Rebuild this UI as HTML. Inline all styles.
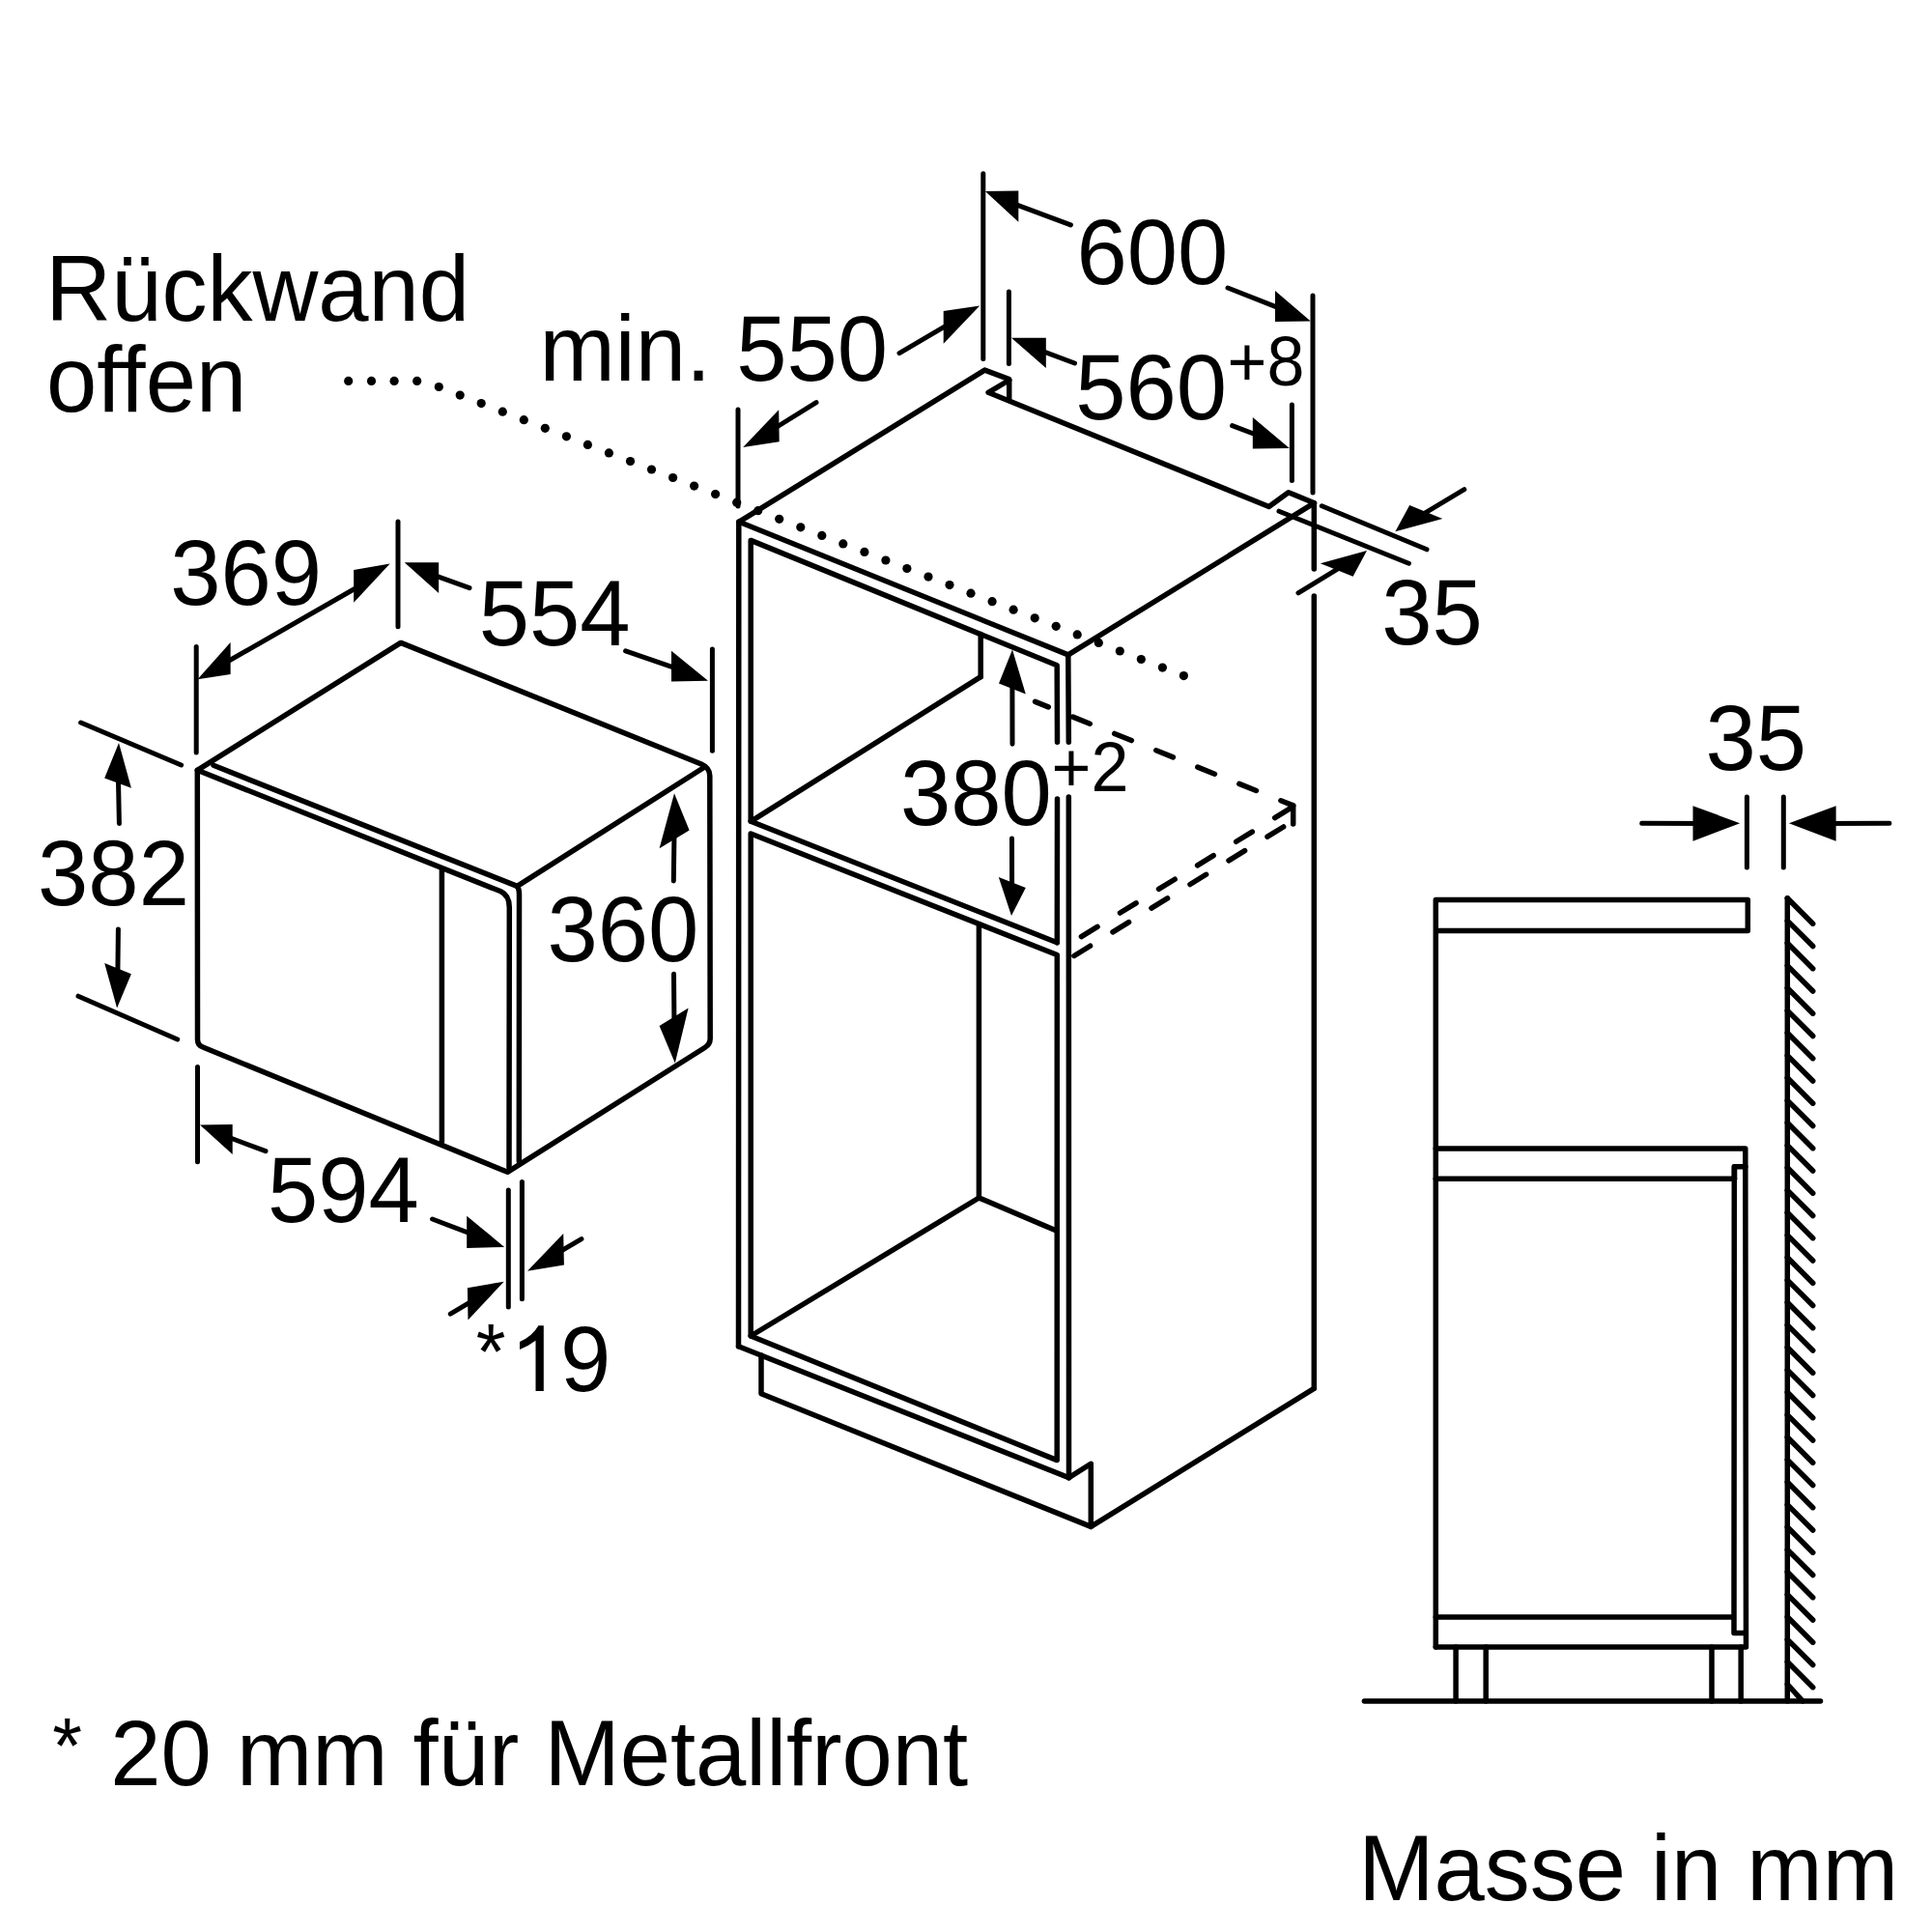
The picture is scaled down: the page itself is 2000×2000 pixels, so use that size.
<!DOCTYPE html>
<html><head><meta charset="utf-8"><style>
html,body{margin:0;padding:0;background:#fff;width:2000px;height:2000px;overflow:hidden}
svg{display:block}
text{font-family:"Liberation Sans",sans-serif;fill:#000}
.obj line,.obj path{stroke:#000;stroke-width:5.5;fill:none;stroke-linecap:round;stroke-linejoin:round}
.dim line{stroke:#000;stroke-width:5;stroke-linecap:round}
.dim polygon{fill:#000}
.dots circle{fill:#000}
.dash path{stroke:#000;stroke-width:5.5;fill:none;stroke-linecap:round}
</style></head><body>
<svg width="2000" height="2000" viewBox="0 0 2000 2000">
<rect width="2000" height="2000" fill="#fff"/>
<g class="dim">
<polygon points="403.7,583.6 366.2,590 366.2,623.7"/>
<polygon points="204.5,703.2 238.6,665 238.6,698"/>
<line x1="230" y1="688" x2="375" y2="605"/>
<line x1="203.2" y1="669.5" x2="203.2" y2="779"/>
<line x1="412" y1="540" x2="412" y2="648.8"/>
<polygon points="418.7,582.3 454.2,582.3 454.2,613.9"/>
<line x1="443.6" y1="593.4" x2="486" y2="608.7"/>
<polygon points="733,704.8 695,673.8 695,705.6"/>
<line x1="706.4" y1="694.2" x2="647.6" y2="673.8"/>
<line x1="737.4" y1="672" x2="737.4" y2="777.3"/>
<line x1="83.6" y1="748" x2="187.6" y2="792"/>
<polygon points="123,769 108.2,805.4 135.9,815.7"/>
<line x1="122.3" y1="798.1" x2="123.4" y2="852.5"/>
<polygon points="121.1,1043.6 108.2,997 135.9,1008.2"/>
<line x1="121.8" y1="1014.9" x2="122.4" y2="962"/>
<line x1="81" y1="1031.2" x2="183.7" y2="1076"/>
<polygon points="698,821.3 682.6,878.2 713.6,859.6"/>
<line x1="698.1" y1="854.6" x2="697.3" y2="911.9"/>
<polygon points="698.8,1100.4 682.6,1062.1 712.6,1043.5"/>
<line x1="698.0" y1="1067.1" x2="697.5" y2="1008.3"/>
<line x1="204.5" y1="1104.5" x2="204.5" y2="1202.8"/>
<polygon points="207,1164.5 240.7,1164 240.7,1195"/>
<line x1="230.6" y1="1175.0" x2="275" y2="1191.7"/>
<polygon points="522.2,1290.9 483.2,1258.8 483.2,1291.9"/>
<line x1="494.9" y1="1280.0" x2="447.6" y2="1262"/>
<line x1="526.3" y1="1231.9" x2="526.3" y2="1353"/>
<line x1="540.4" y1="1223.6" x2="540.4" y2="1344.7"/>
<polygon points="546,1315.7 583.2,1277 583.9,1309.5"/>
<line x1="572.3" y1="1300.0" x2="601.9" y2="1282.6"/>
<polygon points="521.7,1326.7 483.9,1333.3 484.5,1366.5"/>
<line x1="495.4" y1="1342.9" x2="466.3" y2="1360.2"/>
<line x1="764" y1="424" x2="764" y2="524"/>
<polygon points="769.2,463.1 806.2,424.3 806.7,457.2"/>
<line x1="795.3" y1="447.5" x2="845" y2="416.6"/>
<polygon points="1014.2,316.4 976.7,322.1 976.7,355.7"/>
<line x1="988.0" y1="332.1" x2="931" y2="365.6"/>
<line x1="1017.8" y1="179.8" x2="1017.8" y2="371.5"/>
<polygon points="1019.9,197.9 1054.3,197.4 1054.3,229.7"/>
<line x1="1044.0" y1="208.9" x2="1108.4" y2="232.8"/>
<polygon points="1356.8,332.5 1320,300.9 1320,333"/>
<line x1="1331.0" y1="321.6" x2="1271" y2="298"/>
<line x1="1359" y1="306" x2="1359" y2="510"/>
<line x1="1044.4" y1="302" x2="1044.4" y2="376.5"/>
<polygon points="1047,349.8 1082.8,349.8 1082.8,381.1"/>
<line x1="1072.1" y1="360.8" x2="1112.5" y2="376"/>
<polygon points="1334.8,464 1296.8,432.1 1296.8,464.4"/>
<line x1="1308.2" y1="453.0" x2="1275.6" y2="440.6"/>
<line x1="1337.4" y1="419" x2="1337.4" y2="497.5"/>
<line x1="1368.3" y1="523.8" x2="1477" y2="568.8"/>
<line x1="1324" y1="529.2" x2="1458.4" y2="583.2"/>
<polygon points="1444.4,550.2 1459.2,523 1493.3,537"/>
<line x1="1466.7" y1="536.1" x2="1515.8" y2="506.7"/>
<polygon points="1415,569.9 1366.8,583.2 1400.6,596.7"/>
<line x1="1393.1" y1="583.9" x2="1344" y2="613.8"/>
<polygon points="1048,672.5 1034,707.5 1061.8,718.5"/>
<line x1="1047.9" y1="700.9" x2="1048" y2="770.3"/>
<polygon points="1047,948 1033.8,907.9 1061.8,919"/>
<line x1="1047.6" y1="923.8" x2="1047.5" y2="868"/>
<line x1="1808.4" y1="825" x2="1808.4" y2="898"/>
<line x1="1846.3" y1="825" x2="1846.3" y2="898"/>
<polygon points="1801.2,852.2 1752.5,834.2 1752.5,870.8"/>
<line x1="1767.1" y1="852.4" x2="1699.7" y2="852.2"/>
<polygon points="1851.9,852.2 1900.6,834.2 1900.6,870.8"/>
<line x1="1886.0" y1="852.4" x2="1955.9" y2="852.2"/>
</g>
<g class="dots">
<circle cx="360.7" cy="394.4" r="4.6"/>
<circle cx="384.5" cy="394.4" r="4.6"/>
<circle cx="408.1" cy="394.4" r="4.6"/>
<circle cx="431.7" cy="394.4" r="4.6"/>
<circle cx="454.3" cy="400.5" r="4.6"/>
<circle cx="476.2" cy="409.1" r="4.6"/>
<circle cx="498.2" cy="417.6" r="4.6"/>
<circle cx="520.3" cy="426.2" r="4.6"/>
<circle cx="542.3" cy="434.7" r="4.6"/>
<circle cx="564.3" cy="443.3" r="4.6"/>
<circle cx="586.4" cy="451.8" r="4.6"/>
<circle cx="608.4" cy="460.4" r="4.6"/>
<circle cx="630.4" cy="468.9" r="4.6"/>
<circle cx="652.5" cy="477.5" r="4.6"/>
<circle cx="674.5" cy="486.0" r="4.6"/>
<circle cx="696.6" cy="494.5" r="4.6"/>
<circle cx="718.6" cy="503.1" r="4.6"/>
<circle cx="740.6" cy="511.6" r="4.6"/>
<circle cx="762.7" cy="520.2" r="4.6"/>
<circle cx="784.7" cy="528.7" r="4.6"/>
<circle cx="806.7" cy="537.3" r="4.6"/>
<circle cx="828.8" cy="545.8" r="4.6"/>
<circle cx="850.8" cy="554.4" r="4.6"/>
<circle cx="872.8" cy="562.9" r="4.6"/>
<circle cx="894.9" cy="571.4" r="4.6"/>
<circle cx="916.9" cy="580.0" r="4.6"/>
<circle cx="938.9" cy="588.5" r="4.6"/>
<circle cx="961.0" cy="597.1" r="4.6"/>
<circle cx="983.0" cy="605.6" r="4.6"/>
<circle cx="1005.0" cy="614.2" r="4.6"/>
<circle cx="1027.1" cy="622.7" r="4.6"/>
<circle cx="1049.1" cy="631.2" r="4.6"/>
<circle cx="1071.2" cy="639.8" r="4.6"/>
<circle cx="1093.2" cy="648.3" r="4.6"/>
<circle cx="1115.2" cy="656.9" r="4.6"/>
<circle cx="1137.3" cy="665.4" r="4.6"/>
<circle cx="1159.3" cy="674.0" r="4.6"/>
<circle cx="1181.3" cy="682.5" r="4.6"/>
<circle cx="1203.4" cy="691.1" r="4.6"/>
<circle cx="1225.4" cy="699.6" r="4.6"/>
</g>
<g class="obj">
<path d="M204.5,1076 L204.3,797.3 L414.9,665.4 L726,791 Q734.8,795 734.8,803 L735.2,1075 Q735.2,1081 729.6,1084.5 L525.3,1213.3 L210,1084 Q204.5,1082 204.5,1076 Z"/>
<line x1="728.3" y1="794.7" x2="535.4" y2="917.4"/>
<line x1="221" y1="792.3" x2="535.4" y2="917.4"/>
<path d="M204.3,797.3 L518.4,922.8 Q527.3,927 527.3,939.4 L527,1209"/>
<path d="M535.4,917.4 Q537.5,920 537.5,926 L537.3,1202"/>
<line x1="457.4" y1="901" x2="457.4" y2="1182"/>
</g>
<g class="obj">
<path d="M765.2,540.2 L1019.4,383.1 L1044.7,392.6 L1044.7,412.5"/>
<path d="M1044.7,393.5 L1023.1,406.3 L1313.6,524.5 L1333.8,509.7 L1360.6,520.7 L1105.8,677.9"/>
<line x1="765.2" y1="540.2" x2="1105.8" y2="677.9"/>
<line x1="764.8" y1="540.2" x2="764.5" y2="1393.8"/>
<line x1="1360.3" y1="520.7" x2="1360.3" y2="589"/>
<line x1="1360.3" y1="617" x2="1360.3" y2="1437.3"/>
<path d="M1360.3,1437.3 L1129.3,1580.4 L1129.3,1515.2 L1106.5,1529.7"/>
<line x1="1105.8" y1="677.9" x2="1106.3" y2="768.3"/>
<line x1="1106.3" y1="825" x2="1106.5" y2="1529.7"/>
<line x1="764.5" y1="1393.8" x2="1106.5" y2="1529.7"/>
<path d="M788,1402.9 L788,1442.8 L1129.3,1580.4"/>
<path d="M777.2,850 L777.2,559.4 L1094.2,688.8 L1094.5,768.3"/>
<line x1="1094.5" y1="827" x2="1094.3" y2="975.8"/>
<line x1="1015.2" y1="656.5" x2="1015.2" y2="700.7"/>
<path d="M1015.2,700.7 L777.2,850.3 L1094.3,975.8"/>
<path d="M777.2,863 L1094.3,988.5 L1094.2,1511.6 L777.2,1383 Z"/>
<line x1="1013.4" y1="957.7" x2="1013.4" y2="1240"/>
<path d="M777.2,1383 L1013.4,1240 L1094.2,1274.3"/>
</g>
<g class="dash">
<path d="M1071.6,726.4 L1338.7,833.9" stroke-dasharray="19 27.4" stroke-dashoffset="4.3"/>
<path d="M1338.7,833.9 L1338.7,853"/>
<path d="M1338.7,835 L1116,971.7" stroke-dasharray="19.5 27.5" stroke-dashoffset="-2.8"/>
<path d="M1331,854.5 L1108,991.9" stroke-dasharray="19.5 27.5" stroke-dashoffset="-2.8"/>
</g>
<g class="obj">
<path d="M1486.3,1705 L1486.3,931.4 L1809.3,931.4 L1809.3,963.4 L1486.3,963.4"/>
<path d="M1486.3,1189.1 L1806.8,1189.1 L1807.5,1705 L1486.3,1705"/>
<path d="M1486.3,1220.2 L1795.5,1220.2"/>
<path d="M1795.5,1220.2 L1795.5,1207.8 L1806.8,1207.8"/>
<path d="M1795.3,1207.8 L1795,1690.4 L1805.3,1690.4"/>
<line x1="1486.3" y1="1674" x2="1794.4" y2="1674"/>
<line x1="1507.1" y1="1705" x2="1507.1" y2="1760.9"/>
<line x1="1538.2" y1="1705" x2="1538.2" y2="1760.9"/>
<line x1="1772" y1="1705" x2="1772" y2="1760.9"/>
<line x1="1802.2" y1="1705" x2="1802.2" y2="1760.9"/>
<line x1="1412.4" y1="1760.9" x2="1884.5" y2="1760.9"/>
<line x1="1850.3" y1="929.8" x2="1850.3" y2="1760.9"/>
<line x1="1850.3" y1="929.8" x2="1876.7" y2="956.2"/>
<line x1="1850.3" y1="953.1" x2="1876.7" y2="979.5"/>
<line x1="1850.3" y1="976.3" x2="1876.7" y2="1002.7"/>
<line x1="1850.3" y1="999.6" x2="1876.7" y2="1026.0"/>
<line x1="1850.3" y1="1022.8" x2="1876.7" y2="1049.2"/>
<line x1="1850.3" y1="1046.1" x2="1876.7" y2="1072.5"/>
<line x1="1850.3" y1="1069.3" x2="1876.7" y2="1095.7"/>
<line x1="1850.3" y1="1092.6" x2="1876.7" y2="1119.0"/>
<line x1="1850.3" y1="1115.8" x2="1876.7" y2="1142.2"/>
<line x1="1850.3" y1="1139.1" x2="1876.7" y2="1165.5"/>
<line x1="1850.3" y1="1162.3" x2="1876.7" y2="1188.7"/>
<line x1="1850.3" y1="1185.6" x2="1876.7" y2="1212.0"/>
<line x1="1850.3" y1="1208.8" x2="1876.7" y2="1235.2"/>
<line x1="1850.3" y1="1232.1" x2="1876.7" y2="1258.5"/>
<line x1="1850.3" y1="1255.3" x2="1876.7" y2="1281.7"/>
<line x1="1850.3" y1="1278.6" x2="1876.7" y2="1305.0"/>
<line x1="1850.3" y1="1301.8" x2="1876.7" y2="1328.2"/>
<line x1="1850.3" y1="1325.1" x2="1876.7" y2="1351.5"/>
<line x1="1850.3" y1="1348.3" x2="1876.7" y2="1374.7"/>
<line x1="1850.3" y1="1371.6" x2="1876.7" y2="1398.0"/>
<line x1="1850.3" y1="1394.8" x2="1876.7" y2="1421.2"/>
<line x1="1850.3" y1="1418.1" x2="1876.7" y2="1444.5"/>
<line x1="1850.3" y1="1441.3" x2="1876.7" y2="1467.7"/>
<line x1="1850.3" y1="1464.6" x2="1876.7" y2="1491.0"/>
<line x1="1850.3" y1="1487.8" x2="1876.7" y2="1514.2"/>
<line x1="1850.3" y1="1511.1" x2="1876.7" y2="1537.5"/>
<line x1="1850.3" y1="1534.3" x2="1876.7" y2="1560.7"/>
<line x1="1850.3" y1="1557.6" x2="1876.7" y2="1584.0"/>
<line x1="1850.3" y1="1580.8" x2="1876.7" y2="1607.2"/>
<line x1="1850.3" y1="1604.1" x2="1876.7" y2="1630.5"/>
<line x1="1850.3" y1="1627.3" x2="1876.7" y2="1653.7"/>
<line x1="1850.3" y1="1650.6" x2="1876.7" y2="1677.0"/>
<line x1="1850.3" y1="1673.8" x2="1876.7" y2="1700.2"/>
<line x1="1850.3" y1="1697.1" x2="1876.7" y2="1723.5"/>
<line x1="1850.3" y1="1720.3" x2="1876.7" y2="1746.7"/>
<line x1="1850.3" y1="1743.5" x2="1866" y2="1760.9"/>
</g>
<text transform="translate(47.3,331.9) scale(1,1.022)" font-size="94.0">Rückwand</text>
<text transform="translate(47.9,426.2) scale(1,1.022)" font-size="94.0">offen</text>
<text transform="translate(558.5,394.0) scale(1,1.022)" font-size="94.0">min. 550</text>
<text transform="translate(1114.4,293.7) scale(1,1.022)" font-size="94.0">600</text>
<text transform="translate(1113.2,434.0) scale(1,1.022)" font-size="94.0">560</text>
<text transform="translate(1270.6,399.0) scale(1,1.022)" font-size="70">+8</text>
<text transform="translate(176.3,626.3) scale(1,1.022)" font-size="94.0">369</text>
<text transform="translate(495.8,667.8) scale(1,1.022)" font-size="94.0">554</text>
<text transform="translate(39.1,937.4) scale(1,1.022)" font-size="94.0">382</text>
<text transform="translate(566.4,994.7) scale(1,1.022)" font-size="94.0">360</text>
<text transform="translate(277.0,1265.4) scale(1,1.022)" font-size="94.0">594</text>
<text transform="translate(492.7,1427.1) scale(1,1.022)" font-size="79">*</text>
<text transform="translate(579.9,1439.8) scale(1,1.022)" font-size="94.0">9</text>
<path d="M562.8,1372.3 L562.8,1439.9 L554.5,1439.9 L554.5,1387.7 Q547,1393.5 538,1396.9 L538,1389 Q551,1383.5 557.4,1372.3 Z" fill="#000"/>
<text transform="translate(1430.3,667.4) scale(1,1.022)" font-size="94.0">35</text>
<text transform="translate(931.9,854.3) scale(1,1.022)" font-size="94.0">380</text>
<text transform="translate(1088.6,819.2) scale(1,1.022)" font-size="70">+2</text>
<text transform="translate(1765.4,796.9) scale(1,1.022)" font-size="94.0">35</text>
<text transform="translate(54.3,1834.5) scale(1,1.022)" font-size="79">*</text>
<text transform="translate(114.3,1847.8) scale(1,1.022)" font-size="94.0">20 mm für Metallfront</text>
<text transform="translate(1406.2,1967.1) scale(1,1.022)" font-size="94.0">Masse in mm</text>
</svg>
</body></html>
